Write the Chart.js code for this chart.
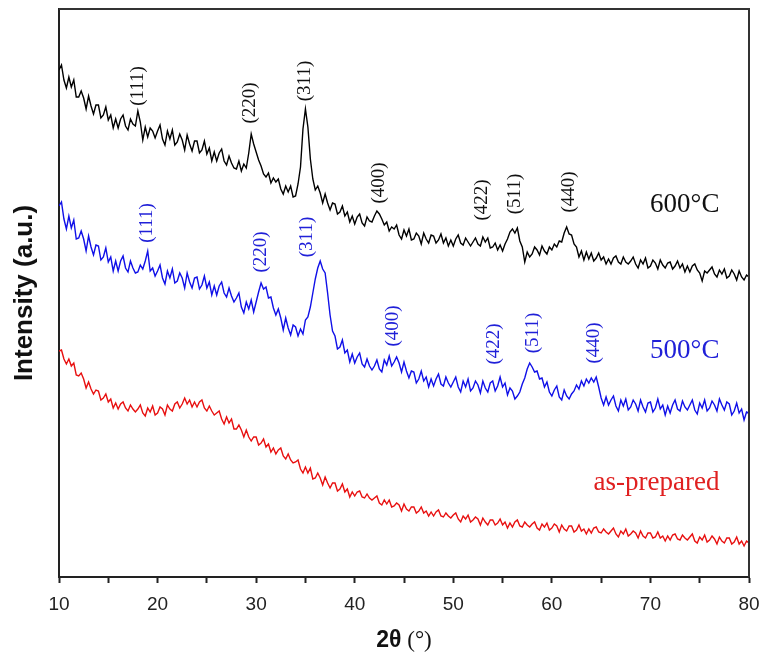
<!DOCTYPE html>
<html>
<head>
<meta charset="utf-8">
<script src="https://cdn.jsdelivr.net/npm/chart.js@4.4.1/dist/chart.umd.min.js"></script>
<style>
  html, body { margin: 0; padding: 0; background: #fff; }
  #wrap { width: 760px; height: 655px; }
</style>
</head>
<body>
<div id="wrap"><canvas id="xrd"></canvas></div>
<script>
// 2θ scan positions (degrees)
const twoTheta = [
  10,10.25,10.5,10.75,11,11.25,11.5,11.75, 12,12.25,12.5,12.75,13,13.25,13.5,13.75,
  14,14.25,14.5,14.75,15,15.25,15.5,15.75, 16,16.25,16.5,16.75,17,17.25,17.5,17.75,
  18,18.25,18.5,18.75,19,19.25,19.5,19.75, 20,20.25,20.5,20.75,21,21.25,21.5,21.75,
  22,22.25,22.5,22.75,23,23.25,23.5,23.75, 24,24.25,24.5,24.75,25,25.25,25.5,25.75,
  26,26.25,26.5,26.75,27,27.25,27.5,27.75, 28,28.25,28.5,28.75,29,29.25,29.5,29.75,
  30,30.25,30.5,30.75,31,31.25,31.5,31.75, 32,32.25,32.5,32.75,33,33.25,33.5,33.75,
  34,34.25,34.5,34.75,35,35.25,35.5,35.75, 36,36.25,36.5,36.75,37,37.25,37.5,37.75,
  38,38.25,38.5,38.75,39,39.25,39.5,39.75, 40,40.25,40.5,40.75,41,41.25,41.5,41.75,
  42,42.25,42.5,42.75,43,43.25,43.5,43.75, 44,44.25,44.5,44.75,45,45.25,45.5,45.75,
  46,46.25,46.5,46.75,47,47.25,47.5,47.75, 48,48.25,48.5,48.75,49,49.25,49.5,49.75,
  50,50.25,50.5,50.75,51,51.25,51.5,51.75, 52,52.25,52.5,52.75,53,53.25,53.5,53.75,
  54,54.25,54.5,54.75,55,55.25,55.5,55.75, 56,56.25,56.5,56.75,57,57.25,57.5,57.75,
  58,58.25,58.5,58.75,59,59.25,59.5,59.75, 60,60.25,60.5,60.75,61,61.25,61.5,61.75,
  62,62.25,62.5,62.75,63,63.25,63.5,63.75, 64,64.25,64.5,64.75,65,65.25,65.5,65.75,
  66,66.25,66.5,66.75,67,67.25,67.5,67.75, 68,68.25,68.5,68.75,69,69.25,69.5,69.75,
  70,70.25,70.5,70.75,71,71.25,71.5,71.75, 72,72.25,72.5,72.75,73,73.25,73.5,73.75,
  74,74.25,74.5,74.75,75,75.25,75.5,75.75, 76,76.25,76.5,76.75,77,77.25,77.5,77.75,
  78,78.25,78.5,78.75,79,79.25,79.5,79.75, 80
];

// intensities (a.u., offset stacked as in the figure)
const intensity600 = [
  507,512,497,489,500,490,497,480, 480,486,479,468,481,471,463,472,
  472,459,462,470,457,462,449,458, 449,458,462,451,447,458,453,451,
  466,455,437,450,440,449,446,439, 446,452,438,432,446,438,447,432,
  435,443,437,427,442,433,426,436, 436,424,427,436,423,429,416,425,
  416,424,428,416,412,421,414,409, 408,416,406,413,409,424,443,433,
  425,417,411,403,400,404,394,399, 395,398,388,383,391,385,391,380,
  381,393,410,448,468,450,418,398, 387,391,384,374,383,374,367,374,
  373,363,365,371,361,365,355,361, 353,360,363,354,351,360,356,355,
  361,366,363,358,352,355,346,350, 348,352,342,338,347,341,348,337,
  338,344,341,333,344,338,334,342, 341,334,337,343,334,339,331,337,
  331,338,342,334,332,339,335,331, 335,339,333,331,340,335,339,329,
  330,334,327,332,326,333,338,345, 348,344,349,336,330,315,325,320,
  323,330,327,322,331,326,323,330, 327,333,330,336,335,344,350,343,
  342,333,330,320,326,317,325,318, 324,316,319,324,317,320,313,318,
  313,319,321,315,313,320,315,313, 316,320,313,309,317,313,319,309,
  311,317,314,308,317,312,309,314, 315,308,311,316,309,313,305,311,
  305,311,313,307,304,296,306,304, 307,310,303,300,307,303,308,299,
  301,307,303,297,306,300,297,302, 300
];

const intensity500 = [
  371,375,358,348,361,349,357,338, 339,346,338,326,341,330,322,332,
  331,317,320,329,315,320,306,316, 306,316,321,309,305,316,309,304,
  305,312,308,316,326,306,309,301, 306,312,299,293,306,299,308,294,
  296,304,299,289,304,295,289,299, 300,288,292,301,289,295,282,291,
  282,291,295,284,280,289,281,275, 279,284,270,264,275,268,277,265,
  275,285,294,288,290,279,280,269, 262,268,259,247,259,249,242,252,
  250,241,248,243,257,260,270,284, 298,309,316,308,304,284,262,246,
  241,228,230,237,224,227,215,223, 214,220,224,213,210,218,211,207,
  211,217,208,205,217,212,221,211, 215,220,214,205,215,206,199,206,
  205,194,198,206,196,200,190,198, 191,198,203,193,191,200,194,190,
  195,200,190,185,196,190,198,186, 189,196,192,184,196,189,185,194,
  196,186,191,200,190,194,182,189, 186,178,181,185,193,199,208,214,
  210,205,206,198,199,190,195,185, 181,187,191,180,177,187,181,178,
  183,186,192,188,196,191,198,194, 199,195,200,190,179,172,180,172,
  177,181,171,166,177,171,178,167, 170,177,173,166,177,170,165,174,
  175,165,169,178,168,172,162,171, 164,172,177,168,166,176,170,167,
  172,177,167,163,174,169,177,166, 169,176,172,166,178,172,167,175,
  173,162,166,174,164,168,157,165, 164
];

const intensityAsPrepared = [
  226,227,218,213,218,211,214,202, 201,204,198,189,195,188,183,187,
  186,177,179,183,175,178,169,174, 168,173,175,169,166,172,168,165,
  168,172,164,161,169,165,171,162, 164,170,168,162,172,168,166,173,
  175,169,173,179,173,177,170,175, 170,175,177,169,166,171,166,162,
  164,166,158,153,160,154,158,148, 148,152,147,140,147,140,136,140,
  140,132,134,138,130,133,125,129, 123,127,129,121,118,123,117,114,
  115,117,108,104,110,104,109,98, 99,104,99,92,100,94,89,94,
  94,86,88,93,85,88,80,85, 81,85,86,80,79,83,79,77,
  79,81,74,72,77,73,77,70, 71,74,72,66,73,68,66,70,
  70,64,66,70,64,66,61,65, 61,65,67,61,60,64,61,59,
  62,64,58,55,61,58,62,55, 57,60,58,52,59,55,52,57,
  57,52,54,58,52,55,49,54, 50,55,57,51,50,55,52,50,
  53,55,49,47,53,50,54,47, 49,53,51,45,52,48,46,51,
  51,45,47,52,46,48,43,48, 44,49,50,45,44,48,45,43,
  46,49,43,40,46,43,48,41, 43,46,44,39,46,41,39,44,
  44,39,40,45,39,41,36,41, 37,42,43,38,37,42,39,37,
  40,43,36,34,40,37,42,35, 37,41,38,33,40,36,34,39,
  39,33,35,40,33,36,31,36, 34
];

// Miller indices of the spinel reflections
const hklLabels = ['(111)', '(220)', '(311)', '(400)', '(422)', '(511)', '(440)'];
const hklAngles600 = [18.0, 29.4, 35.0, 42.5, 52.9, 56.3, 61.7];
const hklAngles500 = [18.9, 30.5, 35.2, 43.9, 54.1, 58.1, 64.3];
const sampleNames = ['600°C', '500°C', 'as-prepared'];

// anchor heights (data units) for the annotations
const hklLevel600 = [491, 474, 496, 394, 377, 383, 385];
const hklLevel500 = [354, 325, 340, 251, 233, 244, 234];
const sampleNameLevel = [365, 219, 87];

const COLORS = ['#000000', '#1010e8', '#e81010'];
const TEXT_COLORS = ['#111111', '#2020d8', '#e02020'];

const toPoints = (ys) => ys.map((y, i) => ({ x: twoTheta[i], y: y }));

// Dibuja el marco superior/derecho, las anotaciones y los títulos de los ejes
const annotationsPlugin = {
  id: 'xrdAnnotations',
  afterDatasetsDraw(chart) {
    const { ctx, chartArea: a, scales } = chart;
    const xs = scales.x, ys = scales.y;
    ctx.save();

    // marco
    ctx.strokeStyle = '#333';
    ctx.lineWidth = 2;
    ctx.beginPath();
    ctx.moveTo(a.left, a.top);
    ctx.lineTo(a.right, a.top);
    ctx.lineTo(a.right, a.bottom);
    ctx.stroke();

    // índices hkl, girados
    const drawHkl = (angles, levels, color) => {
      ctx.fillStyle = color;
      ctx.font = '19px "Liberation Serif", "Times New Roman", serif';
      ctx.textAlign = 'center';
      ctx.textBaseline = 'middle';
      angles.forEach((ang, i) => {
        ctx.save();
        ctx.translate(xs.getPixelForValue(ang), ys.getPixelForValue(levels[i]));
        ctx.rotate(-Math.PI / 2);
        ctx.fillText(hklLabels[i], 0, 0);
        ctx.restore();
      });
    };
    drawHkl(hklAngles600, hklLevel600, TEXT_COLORS[0]);
    drawHkl(hklAngles500, hklLevel500, TEXT_COLORS[1]);

    // nombres de las muestras
    ctx.font = '27px "Liberation Serif", "Times New Roman", serif';
    ctx.textAlign = 'right';
    ctx.textBaseline = 'alphabetic';
    sampleNames.forEach((name, i) => {
      ctx.fillStyle = TEXT_COLORS[i];
      ctx.fillText(name, xs.getPixelForValue(77), ys.getPixelForValue(sampleNameLevel[i]));
    });

    // título eje Y
    ctx.save();
    ctx.translate(25, (a.top + a.bottom) / 2);
    ctx.rotate(-Math.PI / 2);
    ctx.fillStyle = '#111';
    ctx.font = 'bold 26px "Liberation Sans", Arial, sans-serif';
    ctx.textAlign = 'center';
    ctx.textBaseline = 'middle';
    ctx.fillText('Intensity (a.u.)', 0, 0);
    ctx.restore();

    // título eje X: "2θ" en negrita + " (°)"
    const boldPart = '2θ';
    const plainPart = ' (°)';
    ctx.textBaseline = 'middle';
    ctx.textAlign = 'left';
    ctx.font = 'bold 23px "Liberation Sans", Arial, sans-serif';
    const w1 = ctx.measureText(boldPart).width;
    ctx.font = '23px "Liberation Serif", "Times New Roman", serif';
    const w2 = ctx.measureText(plainPart).width;
    const cx = (a.left + a.right) / 2;
    let x0 = cx - (w1 + w2) / 2;
    ctx.fillStyle = '#111';
    ctx.font = 'bold 23px "Liberation Sans", Arial, sans-serif';
    ctx.fillText(boldPart, x0, 641);
    ctx.font = '23px "Liberation Serif", "Times New Roman", serif';
    ctx.fillText(plainPart, x0 + w1, 641);

    ctx.restore();
  },
};

const ctx = document.getElementById('xrd').getContext('2d');
new Chart(ctx, {
  type: 'line',
  data: {
    datasets: [
      { label: sampleNames[0], data: toPoints(intensity600), borderColor: COLORS[0] },
      { label: sampleNames[1], data: toPoints(intensity500), borderColor: COLORS[1] },
      { label: sampleNames[2], data: toPoints(intensityAsPrepared), borderColor: COLORS[2] },
    ],
  },
  options: {
    responsive: true,
    maintainAspectRatio: false,
    animation: false,
    layout: { padding: { left: 0, right: 11, top: 9, bottom: 0 } },
    elements: {
      point: { radius: 0 },
      line: { borderWidth: 1.4, tension: 0 },
    },
    plugins: {
      legend: { display: false },
      tooltip: { enabled: false },
    },
    scales: {
      x: {
        type: 'linear',
        min: 10,
        max: 80,
        afterFit: (scale) => {
          scale.height = 78;
          // que la etiqueta "80" no encoja el área del gráfico
          scale.paddingLeft = 0;
          scale.paddingRight = 0;
        },
        ticks: {
          stepSize: 5,
          autoSkip: false,
          maxRotation: 0,
          padding: 10,
          color: '#222',
          font: { family: '"Liberation Sans", Arial, sans-serif', size: 19 },
          callback: (v) => (v % 10 === 0 ? String(v) : ''),
        },
        grid: {
          drawOnChartArea: false,
          drawTicks: true,
          tickLength: 6,
          tickWidth: 2,
          tickColor: '#222',
        },
        border: { display: true, color: '#222', width: 2 },
      },
      y: {
        min: 0,
        max: 568,
        afterFit: (scale) => { scale.width = 59; },
        ticks: { display: false },
        grid: { display: false },
        border: { display: true, color: '#222', width: 2 },
      },
    },
  },
  plugins: [annotationsPlugin],
});
</script>
</body>
</html>
